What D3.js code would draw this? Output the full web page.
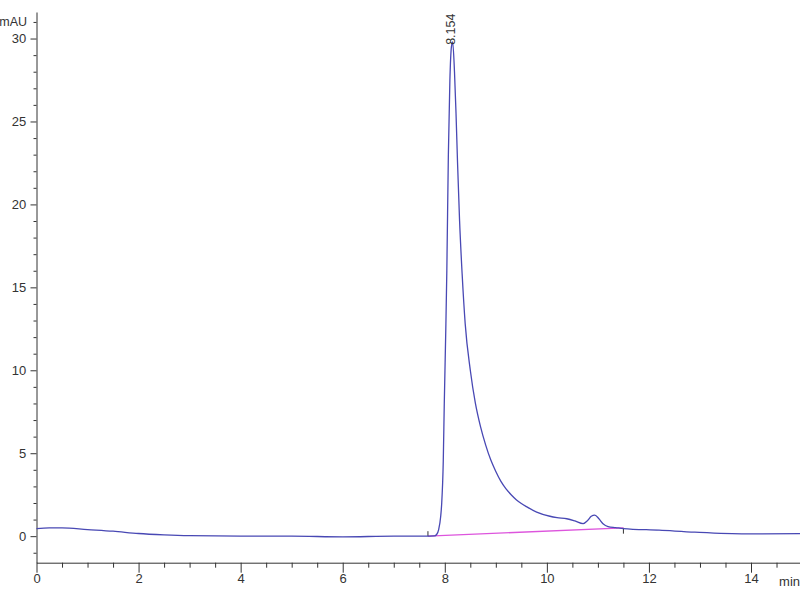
<!DOCTYPE html>
<html><head><meta charset="utf-8">
<script src="https://cdn.jsdelivr.net/npm/d3@7"></script>
<style>
html,body{margin:0;padding:0;background:#fff;}
text{font-family:"Liberation Sans Narrow","Arial Narrow","Liberation Sans",sans-serif;}
</style></head>
<body>
<svg id="chart" width="800" height="600"></svg>
<script>
// Chromatogram data (time in min, absorbance in mAU)
const times = [0,0.25,0.5,1,1.5,2,2.5,3,4,5,6,7,7.6,7.8,7.84,7.88,7.92,7.94,7.97,7.99,8.02,8.04,8.07,8.10,8.13,8.154,8.19,8.22,8.25,8.29,8.34,8.4,8.5,8.6,8.7,8.8,8.9,9.0,9.1,9.2,9.3,9.4,9.5,9.6,9.8,10.06,10.2,10.39,10.55,10.71,10.8,10.87,10.94,11.02,11.1,11.2,11.35,11.5,12.2,12.9,13.9,14.96];
const signal = [0.45,0.5,0.5,0.4,0.3,0.16,0.08,0.03,0.0,0.0,-0.04,0.0,0.0,0.02,0.1,0.4,1.2,2.0,4.5,8.0,12.5,16.0,23.0,27.5,29.5,29.8,28.0,25.5,22.5,19.0,15.8,12.8,10.0,8.0,6.6,5.5,4.6,3.9,3.3,2.85,2.5,2.2,1.97,1.78,1.45,1.2,1.12,1.05,0.92,0.76,0.95,1.2,1.27,1.05,0.75,0.58,0.52,0.46,0.36,0.24,0.14,0.15];
const baselineTimes = [7.67, 11.5];
const baselineValues = [0.0, 0.5];
const peakLabel = "8.154";
const peakTime = 8.154;
const peakValue = 29.8;
const xMajorTicks = [0,2,4,6,8,10,12,14];
const yMajorTicks = [0,5,10,15,20,25,30];
const xUnit = "min";
const yUnit = "mAU";

const svg = d3.select("#chart");
const x = d3.scaleLinear().domain([0, 14.96]).range([36.5, 800]);
const y = d3.scaleLinear().domain([-1.6, 31.6]).range([562.7, 12]);

const xMinor = d3.range(0, 15, 0.5).filter(v => !xMajorTicks.includes(v));
const yMinor = d3.range(-1, 32, 1).filter(v => !yMajorTicks.includes(v));
const axisColor = "#333";

// X axis
const gx = svg.append("g").attr("transform", `translate(0,${y(-1.6)})`);
gx.call(d3.axisBottom(x).tickValues(xMajorTicks).tickSize(10).tickSizeOuter(0).tickFormat(d3.format("d")));
svg.append("g").attr("transform", `translate(0,${y(-1.6)})`)
  .call(d3.axisBottom(x).tickValues(xMinor).tickSize(5).tickSizeOuter(0).tickFormat(""))
  .select(".domain").remove();
gx.selectAll("text").attr("font-size", 13).attr("fill", axisColor).attr("dy", "0.55em");

// Y axis
const gy = svg.append("g").attr("transform", `translate(${x(0)},0)`);
gy.call(d3.axisLeft(y).tickValues(yMajorTicks).tickSize(6).tickSizeOuter(0).tickFormat(d3.format("d")));
svg.append("g").attr("transform", `translate(${x(0)},0)`)
  .call(d3.axisLeft(y).tickValues(yMinor).tickSize(3).tickSizeOuter(0).tickFormat(""))
  .select(".domain").remove();
gy.selectAll("text").attr("font-size", 13).attr("fill", axisColor).attr("dx", "-0.1em");

svg.selectAll(".domain, .tick line").attr("stroke", axisColor);

// units
svg.append("text").attr("x", 27).attr("y", y(31)).attr("dy", "0.35em")
  .attr("text-anchor", "end").attr("font-size", 12.5).attr("fill", axisColor).text(yUnit);
svg.append("text").attr("x", 800).attr("y", y(-1.6) + 19).attr("dy", "0.35em")
  .attr("text-anchor", "end").attr("font-size", 13).attr("fill", axisColor).text(xUnit);

// baseline (integration)
svg.append("path")
  .datum(baselineTimes.map((t, i) => [t, baselineValues[i]]))
  .attr("fill", "none").attr("stroke", "#dd55dd").attr("stroke-width", 1.3)
  .attr("d", d3.line().x(d => x(d[0])).y(d => y(d[1])));
svg.append("line").attr("x1", x(baselineTimes[0])).attr("x2", x(baselineTimes[0]))
  .attr("y1", y(baselineValues[0])).attr("y2", y(baselineValues[0] + 0.3))
  .attr("stroke", "#333").attr("stroke-width", 1);
svg.append("line").attr("x1", x(baselineTimes[1])).attr("x2", x(baselineTimes[1]))
  .attr("y1", y(baselineValues[1])).attr("y2", y(baselineValues[1] - 0.35))
  .attr("stroke", "#333").attr("stroke-width", 1);

// signal
svg.append("path")
  .datum(times.map((t, i) => [t, signal[i]]))
  .attr("fill", "none").attr("stroke", "#4848b4").attr("stroke-width", 1.3)
  .attr("d", d3.line().curve(d3.curveMonotoneX).x(d => x(d[0])).y(d => y(d[1])));

// peak label
svg.append("text")
  .attr("transform", `translate(${x(peakTime) + 2},${y(peakValue) + 3}) rotate(-90)`)
  .attr("font-size", 12.5).attr("fill", axisColor).text(peakLabel);
</script>
</body></html>
